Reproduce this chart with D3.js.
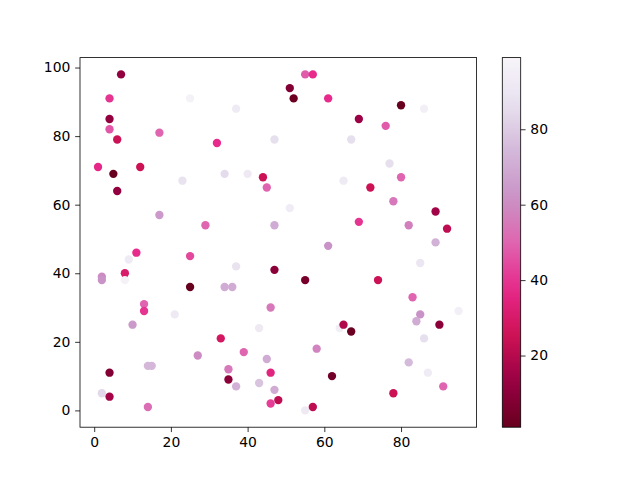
<!DOCTYPE html>
<html><head><meta charset="utf-8">
<script src="https://cdn.jsdelivr.net/npm/d3@7"></script>
<style>body{margin:0;background:#fff}svg{display:block}text{font-family:"DejaVu Sans";font-size:13.9px;fill:#000}</style>
</head><body><svg id="c" width="640" height="480"></svg>
<script>
const xs = [7,4,25,4,4,17,6,32,1,12,5,23,6,17,29,11,9,25,2,2,8,8,25,13,13,21,10,33,27,14,15,4,2,4,14,
55,57,51,52,61,37,47,67,34,40,44,45,65,51,47,61,37,47,55,34,36,46,43,64,65,67,39,45,58,35,35,37,43,46,47,48,46,62,55,57,
80,86,69,76,77,80,72,78,89,69,82,92,89,85,74,83,85,84,90,95,86,82,87,91,78];
const ys = [98,91,91,85,82,81,79,78,71,71,69,67,64,57,54,46,44,45,39,38,40,38,36,31,29,28,25,21,16,13,13,11,5,4,1,
98,98,94,91,91,88,79,79,69,69,68,65,67,59,54,48,42,41,38,36,36,30,24,24,25,23,17,15,18,12,9,7,8,11,6,3,2,10,0,1,
89,88,85,83,72,68,65,61,58,55,54,53,49,43,38,33,28,26,25,29,21,14,11,7,5];
const cs = [12,40,97,12,47,50,25,38,37,25,1,88,12,64,50,38,93,44,60,62,30,97,1,50,40,92,64,28,60,74,74,8,84,16,52,
48,38,8,2,38,93,86,86,85,92,25,50,93,94,70,62,88,10,5,70,70,55,92,95,19,2,50,70,58,55,10,72,78,35,70,22,42,4,92,22,
1,96,14,48,86,50,25,55,15,40,57,22,72,90,25,50,62,70,10,96,86,75,94,50,25];
const xTicks = [0,20,40,60,80];
const yTicks = [0,20,40,60,80,100];
const cTicks = [20,40,60,80];
const cmapStops = ["#f7f4f9","#e7e1ef","#d4b9da","#c994c7","#df65b0","#e7298a","#ce1256","#980043","#67001f"];

const svg = d3.select("#c");
const L=80, R=476.6, T=57.6, B=427.2;
const x = d3.scaleLinear().domain([-3.7,99.7]).range([L,R]);
const y = d3.scaleLinear().domain([-4.9,102.9]).range([B,T]);
const cmin=1, cmax=99;
const cmap = d3.scaleLinear().domain(cmapStops.map((d,i)=>cmax-(cmax-cmin)*i/(cmapStops.length-1))).range(cmapStops).clamp(true);

const data = xs.map((d,i)=>({x:d,y:ys[i],c:cs[i]}));
svg.append("g").selectAll("circle").data(data).join("circle")
  .attr("cx",d=>x(d.x)).attr("cy",d=>y(d.y)).attr("r",4.17).attr("fill",d=>cmap(d.c));

const xa = svg.append("g").attr("transform",`translate(0,${B})`).call(d3.axisBottom(x).tickValues(xTicks).tickSize(4.86).tickPadding(4.8));
const ya = svg.append("g").attr("transform",`translate(${L},0)`).call(d3.axisLeft(y).tickValues(yTicks).tickSize(4.86).tickPadding(4.8));
[xa,ya].forEach(a=>{a.select(".domain").remove();a.selectAll("line").attr("stroke","#000").attr("stroke-width",0.8);a.selectAll("text").attr("font-family","DejaVu Sans").attr("font-size",13.9).attr("fill","#000");});
svg.append("rect").attr("x",L).attr("y",T).attr("width",R-L).attr("height",B-T).attr("fill","none").attr("stroke","#000").attr("stroke-width",0.8);

// colorbar
const CL=502.3, CR=520.7;
const cy = d3.scaleLinear().domain([cmin,cmax]).range([B,T]);
const defs = svg.append("defs");
const grad = defs.append("linearGradient").attr("id","g").attr("x1",0).attr("y1",1).attr("x2",0).attr("y2",0);
d3.range(0,1.0001,0.05).forEach(t=>grad.append("stop").attr("offset",t).attr("stop-color",cmap(cmin+(cmax-cmin)*t)));
svg.append("rect").attr("x",CL).attr("y",T).attr("width",CR-CL).attr("height",B-T).attr("fill","url(#g)");
const ca = svg.append("g").attr("transform",`translate(${CR},0)`).call(d3.axisRight(cy).tickValues(cTicks).tickSize(4.86).tickPadding(4.8));
ca.select(".domain").remove();
ca.selectAll("line").attr("stroke","#000").attr("stroke-width",0.8);
ca.selectAll("text").attr("font-family","DejaVu Sans").attr("font-size",13.9).attr("fill","#000");
svg.append("rect").attr("x",CL).attr("y",T).attr("width",CR-CL).attr("height",B-T).attr("fill","none").attr("stroke","#000").attr("stroke-width",0.8);
</script></body></html>
